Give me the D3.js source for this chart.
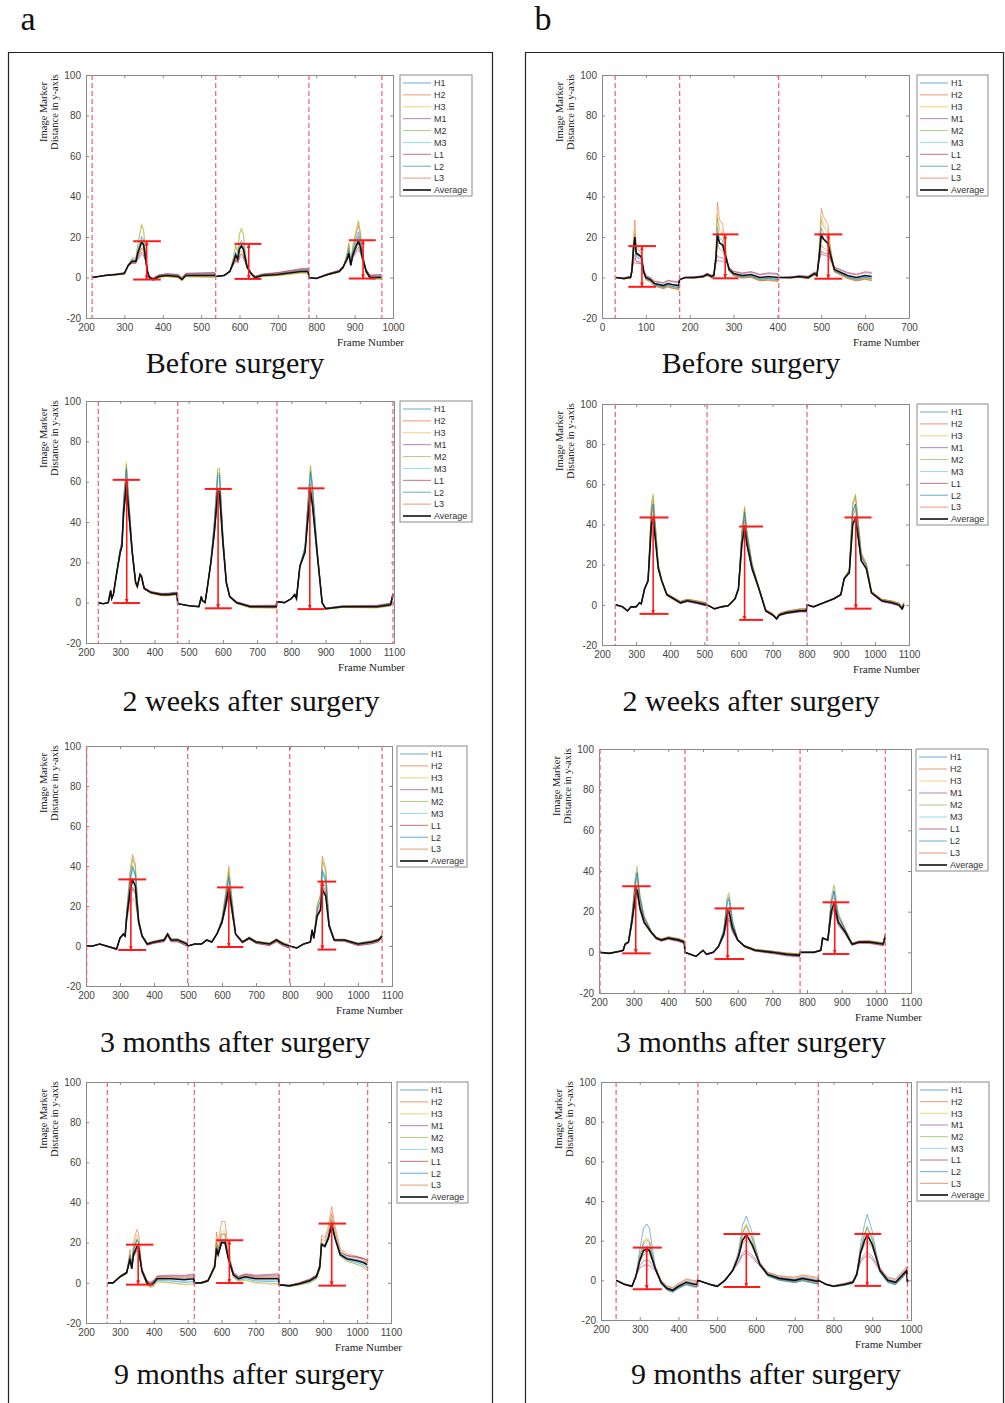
<!DOCTYPE html>
<html>
<head>
<meta charset="utf-8">
<script src="https://cdn.jsdelivr.net/npm/d3@7"></script>
<style>
  body { margin: 0; background: #fff; }
  text { font-family: "Liberation Sans", Arial, sans-serif; }
  .serif { font-family: "Liberation Serif", "DejaVu Serif", serif; }
</style>
</head>
<body>
<div id="figure"></div>
<script>
let w = 1005;
let h = 1403;

// markers and their (MATLAB default) colours
let markers = ["H1", "H2", "H3", "M1", "M2", "M3", "L1", "L2", "L3"];
let markerColors = ["#0072BD", "#D95319", "#EDB120", "#7E2F8E", "#77AC30", "#4DBEEE", "#A2142F", "#0072BD", "#D95319"];
let yTicks = [-20, 0, 20, 40, 60, 80, 100];

// ---------- a: Before surgery ----------
let a1Avg = [[216,0],[250,1],[280,1.5],[300,2],[310,6],[320,8],[330,8],[335,12],[345,17.5],[350,16],[355,10],[360,3],[365,0],[375,-1],[390,0.5],[410,1],[440,0.5],[450,-1],[460,1],[500,1],[536,1],
  [538,0.5],[560,1],[575,3],[585,8],[590,11],[595,9],[600,14],[605,15.5],[610,14],[620,5],[630,2],[640,0],[660,1],[700,1.5],[740,2.5],[760,3],[779,3],
  [781,0],[800,-0.5],[830,1.5],[860,3],[870,5],[880,9],[885,12],[890,6],[895,11],[905,16],[910,18],[915,15],[920,10],[930,3],[940,0],[960,0],[970,0]];
let a1Peaks = [[20,18,22],[15,12,26],[27,25,29],[11,10,13],[26,24,28],[19,17,21],[12,11,14],[18,16,20],[14,13,16]];
let a1Drift = [0.8,-0.6,-1,1.2,-0.8,0.5,1.5,0.3,0.8];
let a1Dashed = [216, 538, 781, 971];
let a1Brackets = [[358,17.9,-1.0,323,395],[624,16.6,-0.7,587,657],[922,18.4,-0.5,885,955]];

// ---------- b: Before surgery ----------
let b1Avg = [[32,0],[50,-0.5],[60,0],[65,0],[68,3],[72,15],[75,20],[78,12],[85,11],[90,10],[95,3],[100,0],[110,-1],[120,-3],[140,-4],[150,-3],[160,-3.5],[175,-4],
  [177,-1],[190,0],[210,0],[230,0.5],[240,1.5],[250,0.5],[255,1],[260,10],[263,21],[268,17],[275,16],[285,8],[290,4],[300,2],[320,1],[340,1.5],[360,0],[380,0.5],[401,0],
  [403,0],[430,0],[450,0.5],[470,0],[485,2],[490,1],[495,10],[500,21],[505,19],[515,17],[520,12],[530,4],[540,3],[560,1],[580,0],[600,1],[615,0.5]];
let b1Peaks = [[19,25,25],[29,38,35],[24,32,31],[7,8,11],[22,30,29],[17,22,22],[9,10,12],[16,22,21],[12,18,17]];
let b1Drift = [-1,-2,-1.5,1.5,-1.5,-0.5,2,-1,-2];
let b1Dashed = [30, 177, 403];
let b1Brackets = [[91,15.5,-4.6,60,123],[281,21.3,-0.4,252,311],[516,21.3,-0.6,484,548]];

// ---------- a: 2 weeks after surgery ----------
let a2Avg = [[236,0],[250,-0.5],[265,0],[272,6],[275,2],[280,4],[290,15],[300,25],[305,28],[310,45],[318,59],[325,45],[335,25],[345,10],[350,8],[358,14],[362,13],[370,7],[390,5],[420,4],[440,4],[466,4.5],
  [468,-0.5],[500,-1.5],[530,-2],[537,3],[540,1],[548,0],[555,8],[565,20],[575,35],[585,55],[590,55],[600,30],[610,10],[620,3],[640,0],[680,-2],[720,-2],[756,-2],
  [758,0.5],[780,0],[800,2],[810,4],[815,2],[825,18],[840,25],[850,45],[856,55],[862,48],[875,25],[890,0],[900,-3],[950,-2],[1000,-2],[1050,-2],[1090,-1],[1097,4]];
let a2Peaks = [[67,64,64],[58,55,57],[70,66,68],[56,52,54],[69,67,68],[64,62,63],[58,54,56],[66,63,65],[60,57,59]];
let a2Drift = [0.5,-0.5,-0.8,0.6,-0.6,0.3,0.8,0.2,-0.3];
let a2Dashed = [236, 468, 758, 1097];
let a2Brackets = [[319,60.9,-0.2,278,358],[586,56.4,-2.8,547,626],[854,56.7,-3.2,818,897]];

// ---------- b: 2 weeks after surgery ----------
let b2Avg = [[240,0],[260,-1],[275,-3],[285,-1],[300,-1],[310,1],[315,0.5],[325,8],[335,12],[345,40],[350,43],[358,30],[365,18],[375,12],[390,5],[410,3],[430,1],[450,2],[480,1],[506,0],
  [508,0],[530,-2],[550,-1],[570,-0.5],[590,3],[600,8],[610,30],[618,39],[625,30],[640,18],[660,8],[680,-3],[700,-5],[712,-7],[720,-5],[740,-4],[780,-3],[799,-3],
  [801,0],[820,-1],[850,1],[880,3],[900,5],[910,13],[915,14],[925,16],[935,40],[943,43],[950,35],[960,22],[975,18],[990,6],[1020,2],[1050,1],[1070,0],[1080,-2],[1085,0]];
let b2Peaks = [[50,45,50],[52,47,53],[55,49,55],[44,38,43],[54,48,54],[49,45,49],[45,40,44],[50,46,50],[47,42,47]];
let b2Drift = [0.5,1,0.8,-0.5,1,0.3,-0.5,0.3,1];
let b2Dashed = [239, 508, 801];
let b2Brackets = [[350,43.5,-4.5,310,395],[618,39.0,-7.5,602,672],[944,43.5,-1.9,911,990]];

// ---------- a: 3 months after surgery ----------
let a3Avg = [[202,0],[220,0],[240,1],[260,0],[290,-1.5],[300,4],[310,6],[315,5],[320,15],[330,28],[337,33],[345,30],[355,12],[365,5],[380,1],[400,2],[430,3],[440,6],[450,3],[470,3],[497,1],
  [499,0],[520,1],[540,1],[555,3],[570,2],[585,6],[600,12],[610,20],[620,29],[628,20],[640,6],[660,2],[680,4],[700,2],[740,1],[760,3],[780,1],[797,0],
  [799,0],[820,-1],[840,1],[860,2],[865,8],[870,4],[880,15],[890,18],[895,28],[905,25],[915,10],[930,3],[960,3],[1000,1],[1040,2],[1060,3],[1071,5]];
let a3Peaks = [[39,35,37],[46,40,45],[44,38,43],[30,26,31],[43,37,42],[38,33,36],[29,27,30],[40,34,38],[24,30,33]];
let a3Drift = [0.5,-0.5,0.8,-1,0.6,0.2,-1,0.3,-0.3];
let a3Dashed = [202, 499, 799, 1071];
let a3Brackets = [[332,33.3,-2.0,295,377],[620,29.3,-0.5,585,663],[895,32.2,-1.8,881,936]];

// ---------- b: 3 months after surgery ----------
let b3Avg = [[203,0],[230,-0.5],[260,0.5],[270,1],[275,4],[285,5],[295,15],[305,28],[310,31],[318,22],[330,15],[350,10],[365,7],[380,6],[400,7],[430,6],[446,5],
  [448,0],[480,-2],[500,1],[510,-1],[530,0],[545,3],[560,9],[570,19],[575,20],[585,12],[600,6],[620,3],[650,1],[700,0],[740,-1],[778,-1.5],
  [780,0],[820,0],[840,1],[845,7],[860,6],[870,20],[878,24],[890,15],[910,10],[930,4],[950,5],[980,5],[1020,4],[1026,8]];
let b3Peaks = [[39,27,30],[36,22,27],[40,28,32],[30,16,21],[42,29,33],[38,26,30],[29,17,22],[39,26,30],[33,20,25]];
let b3Drift = [0.5,0.8,0.5,-0.5,0.8,0.3,-0.8,0.3,0.6];
let b3Dashed = [203, 448, 780, 1026];
let b3Brackets = [[306,32.5,-0.5,267,349],[571,21.6,-3.3,533,619],[880,24.6,-0.8,845,922]];

// ---------- a: 9 months after surgery ----------
let a4Avg = [[263,0],[280,0],[300,3],[320,5],[330,12],[335,7],[340,14],[350,18],[355,17],[365,6],[380,0],[390,-1],[400,0],[410,2],[450,2],[490,1.5],[518,2],
  [520,0],[540,0],[560,1],[580,8],[585,17],[590,14],[600,20],[610,20],[620,12],[635,4],[650,2],[670,3],[700,2],[740,2],[768,2],
  [770,-1],[800,-1.5],[830,-0.5],[860,1],[880,3],[890,8],[895,19],[905,18],[915,22],[925,29],[935,22],[950,14],[970,12],[1000,11],[1020,10],[1030,9]];
let a4Peaks = [[22,22,32],[26,30,37],[25,27,35],[16,20,28],[23,25,33],[20,22,30],[15,19,27],[21,21,30],[17,24,34]];
let a4Drift = [-1.5,1.5,-3,2,-2.5,-1,2.5,0.5,1];
let a4Dashed = [263, 520, 770, 1031];
let a4Brackets = [[354,19.0,-0.9,318,399],[623,21.2,-0.1,584,664],[925,29.5,-1.4,886,967]];

// ---------- b: 9 months after surgery ----------
let b4Avg = [[239,0],[260,-2],[280,-3],[290,2],[300,10],[310,15],[318,16],[325,15],[340,6],[355,-1],[370,-4],[385,-5],[400,-3],[420,-1],[440,-2],[448,-2],
  [450,0],[480,-2],[500,-3],[520,0],[540,5],[555,12],[565,20],[575,23],[590,18],[610,8],[630,3],[660,1],[700,0],[720,1],[759,-0.5],
  [761,0],[780,-2],[800,-3],[830,-2],[850,-1],[860,3],[870,14],[880,20],[887,23],[900,18],[920,5],[940,0],[960,-1],[975,2],[989,5],[991,-1]];
let b4Peaks = [[29,33,34],[20,27,26],[22,29,28],[10,15,14],[21,28,27],[19,25,26],[8,14,13],[18,24,24],[13,20,19]];
let b4Drift = [-1.5,1.5,-1,0.5,-1,0.8,-0.5,-1.2,2];
let b4Dashed = [239, 450, 761, 991];
let b4Brackets = [[318,16.5,-4.5,282,357],[575,23.4,-3.3,516,611],[887,23.4,-2.8,854,923]];

// panel layout (plot box, legend box, title position)
let panels = [
  {title:"Before surgery", plot:[86,75,393,318], legend:[400,75,472,196], xDomain:[200,1000], tx:235, ty:373,
   avg:a1Avg, peaks:a1Peaks, drift:a1Drift, dashed:a1Dashed, brackets:a1Brackets},
  {title:"Before surgery", plot:[602,75,909,318], legend:[917,75,988,196], xDomain:[0,700], tx:751, ty:373,
   avg:b1Avg, peaks:b1Peaks, drift:b1Drift, dashed:b1Dashed, brackets:b1Brackets},
  {title:"2 weeks after surgery", plot:[86,401,394,643], legend:[400,401,472,522], xDomain:[200,1100], tx:251, ty:711,
   avg:a2Avg, peaks:a2Peaks, drift:a2Drift, dashed:a2Dashed, brackets:a2Brackets},
  {title:"2 weeks after surgery", plot:[602,404,909,645], legend:[917,404,988,525], xDomain:[200,1100], tx:751, ty:711,
   avg:b2Avg, peaks:b2Peaks, drift:b2Drift, dashed:b2Dashed, brackets:b2Brackets},
  {title:"3 months after surgery", plot:[86,746,392,986], legend:[397,746,467,867], xDomain:[200,1100], tx:235, ty:1052,
   avg:a3Avg, peaks:a3Peaks, drift:a3Drift, dashed:a3Dashed, brackets:a3Brackets},
  {title:"3 months after surgery", plot:[599,749,911,993], legend:[916,749,988,871], xDomain:[200,1100], tx:751, ty:1052,
   avg:b3Avg, peaks:b3Peaks, drift:b3Drift, dashed:b3Dashed, brackets:b3Brackets},
  {title:"9 months after surgery", plot:[86,1082,391,1323], legend:[397,1082,468,1203], xDomain:[200,1100], tx:249, ty:1384,
   avg:a4Avg, peaks:a4Peaks, drift:a4Drift, dashed:a4Dashed, brackets:a4Brackets},
  {title:"9 months after surgery", plot:[601,1082,911,1320], legend:[917,1082,989,1201], xDomain:[200,1000], tx:766, ty:1384,
   avg:b4Avg, peaks:b4Peaks, drift:b4Drift, dashed:b4Dashed, brackets:b4Brackets}
];

let viz = d3.select("#figure")
  .append("svg")
  .attr("width", w)
  .attr("height", h);

viz.append("rect").attr("width", w).attr("height", h).attr("fill", "#fff");

// outer frames and panel letters
viz.append("path").attr("d", "M8.5,1403 V52.5 H492.5 V1403").attr("fill", "none").attr("stroke", "#222").attr("stroke-width", 1.2);
viz.append("path").attr("d", "M525.5,1403 V52.5 H1003.5 V1403").attr("fill", "none").attr("stroke", "#222").attr("stroke-width", 1.2);
viz.append("text").attr("class", "serif").attr("x", 28).attr("y", 30).attr("text-anchor", "middle")
  .attr("font-size", 34).attr("fill", "#111").text("a");
viz.append("text").attr("class", "serif").attr("x", 543).attr("y", 30).attr("text-anchor", "middle")
  .attr("font-size", 34).attr("fill", "#111").text("b");

let defs = viz.append("defs");
defs.append("marker").attr("id", "arrow")
  .attr("viewBox", "0 0 10 10").attr("refX", 9).attr("refY", 5)
  .attr("markerWidth", 3).attr("markerHeight", 3).attr("orient", "auto-start-reverse")
  .append("path").attr("d", "M0,1 L10,5 L0,9 z").attr("fill", "#ff1a1a");

// split each panel into its cycles (between dashed lines)
function cycleBounds(p){
  let d = p.dashed.slice();
  if (d.length < 4) d.push(p.avg[p.avg.length-1][0]);
  return [[d[0], d[1]], [d[1], d[2]], [d[2], d[3]]];
}

// marker line: the average shape, with that marker's own peak height per cycle
function markerSeries(p, m){
  let bounds = cycleBounds(p);
  let P = bounds.map(function(b){
    return d3.max(p.avg.filter(d => d[0] >= b[0] && d[0] < b[1] + 1), d => d[1]);
  });
  return p.avg.map(function(d){
    let f = d[0], v = d[1];
    let c = bounds.findIndex(b => f >= b[0] && f < b[1]);
    if (c < 0) c = f < bounds[0][0] ? 0 : 2;
    let b = bounds[c];
    let thr = 0.3 * P[c];
    let k = Math.max(0, (v - thr) / (P[c] - thr));
    let t = Math.min(1, Math.max(0, (f - b[0]) / (b[1] - b[0])));
    return [f, v + (p.peaks[m][c] - P[c]) * k + p.drift[m] * t];
  });
}

panels.forEach(function(p, i){
  let [x0, y0, x1, y1] = p.plot;
  let xScale = d3.scaleLinear().domain(p.xDomain).range([x0, x1]);
  let yScale = d3.scaleLinear().domain([-20, 100]).range([y1, y0]);
  let g = viz.append("g");

  g.append("clipPath").attr("id", "clip" + i)
    .append("rect").attr("x", x0).attr("y", y0).attr("width", x1 - x0).attr("height", y1 - y0);

  // axes, MATLAB style: ticks inside, on all four sides
  let xTicks = d3.range(p.xDomain[0], p.xDomain[1] + 1, 100);
  let plain = d => String(d);
  let axB = g.append("g").attr("transform", "translate(0," + y1 + ")")
    .call(d3.axisBottom(xScale).tickValues(xTicks).tickSize(-3).tickPadding(6).tickFormat(plain));
  let axT = g.append("g").attr("transform", "translate(0," + y0 + ")")
    .call(d3.axisTop(xScale).tickValues(xTicks).tickSize(-3).tickFormat(""));
  let axL = g.append("g").attr("transform", "translate(" + x0 + ",0)")
    .call(d3.axisLeft(yScale).tickValues(yTicks).tickSize(-3).tickPadding(5).tickFormat(plain));
  let axR = g.append("g").attr("transform", "translate(" + x1 + ",0)")
    .call(d3.axisRight(yScale).tickValues(yTicks).tickSize(-3).tickFormat(""));
  [axB, axT, axL, axR].forEach(function(a){
    a.select(".domain").attr("stroke", "#8a8a8a");
    a.selectAll(".tick line").attr("stroke", "#8a8a8a");
    a.selectAll(".tick text").attr("fill", "#444").attr("font-size", 10)
      .attr("font-family", "Liberation Sans, Arial, sans-serif");
  });

  let lineGen = d3.line().x(d => xScale(d[0])).y(d => yScale(d[1]));
  let plotG = g.append("g").attr("clip-path", "url(#clip" + i + ")");

  markers.forEach(function(name, m){
    plotG.append("path")
      .datum(markerSeries(p, m))
      .attr("d", lineGen)
      .attr("fill", "none")
      .attr("stroke", markerColors[m])
      .attr("stroke-opacity", 0.5)
      .attr("stroke-width", 1);
  });
  plotG.append("path")
    .datum(p.avg)
    .attr("d", lineGen)
    .attr("fill", "none")
    .attr("stroke", "#111")
    .attr("stroke-width", 1.6);

  // cycle boundaries
  plotG.selectAll(".dashed").data(p.dashed).enter()
    .append("line")
    .attr("x1", d => xScale(d)).attr("x2", d => xScale(d))
    .attr("y1", y0).attr("y2", y1)
    .attr("stroke", "#ec6b78").attr("stroke-width", 1.3)
    .attr("stroke-dasharray", "5,3");

  // red peak-to-baseline brackets
  p.brackets.forEach(function(b){
    let [xv, top, bot, xa, xb] = b;
    g.append("line").attr("x1", xScale(xa)).attr("x2", xScale(xb))
      .attr("y1", yScale(top)).attr("y2", yScale(top))
      .attr("stroke", "#ff1a1a").attr("stroke-width", 2);
    g.append("line").attr("x1", xScale(xa)).attr("x2", xScale(xb))
      .attr("y1", yScale(bot)).attr("y2", yScale(bot))
      .attr("stroke", "#ff1a1a").attr("stroke-width", 2);
    g.append("line").attr("x1", xScale(xv)).attr("x2", xScale(xv))
      .attr("y1", yScale(bot)).attr("y2", yScale(top))
      .attr("stroke", "#ff1a1a").attr("stroke-width", 1.6)
      .attr("marker-start", "url(#arrow)").attr("marker-end", "url(#arrow)");
  });

  // y label (two lines, rotated)
  let cy = y0 + 37;
  g.append("text").attr("class", "serif")
    .attr("transform", "translate(" + (x0 - 39) + "," + cy + ") rotate(-90)")
    .attr("text-anchor", "middle").attr("font-size", 10.5).attr("fill", "#222")
    .text("Image Marker");
  g.append("text").attr("class", "serif")
    .attr("transform", "translate(" + (x0 - 28) + "," + cy + ") rotate(-90)")
    .attr("text-anchor", "middle").attr("font-size", 10.5).attr("fill", "#222")
    .text("Distance in y-axis");

  g.append("text").attr("class", "serif")
    .attr("x", x1 + 11).attr("y", y1 + 28)
    .attr("text-anchor", "end").attr("font-size", 11).attr("fill", "#222")
    .text("Frame Number");

  // legend
  let [lx0, ly0, lx1, ly1] = p.legend;
  let lg = g.append("g");
  lg.append("rect").attr("x", lx0).attr("y", ly0).attr("width", lx1 - lx0).attr("height", ly1 - ly0)
    .attr("fill", "#fff").attr("stroke", "#8a8a8a").attr("stroke-width", 1);
  let step = (ly1 - ly0 - 14) / 9;
  let entries = markers.concat(["Average"]);
  entries.forEach(function(name, k){
    let yy = ly0 + 8 + k * step;
    lg.append("line").attr("x1", lx0 + 3).attr("x2", lx0 + 31).attr("y1", yy).attr("y2", yy)
      .attr("stroke", k < 9 ? markerColors[k] : "#111")
      .attr("stroke-opacity", k < 9 ? 0.6 : 1)
      .attr("stroke-width", k < 9 ? 1 : 1.6);
    lg.append("text").attr("x", lx0 + 34).attr("y", yy + 3.3)
      .attr("font-size", 9).attr("fill", "#333").text(name);
  });

  // panel title
  viz.append("text").attr("class", "serif")
    .attr("x", p.tx).attr("y", p.ty)
    .attr("text-anchor", "middle").attr("font-size", 30).attr("fill", "#111")
    .text(p.title);
});
</script>
</body>
</html>
